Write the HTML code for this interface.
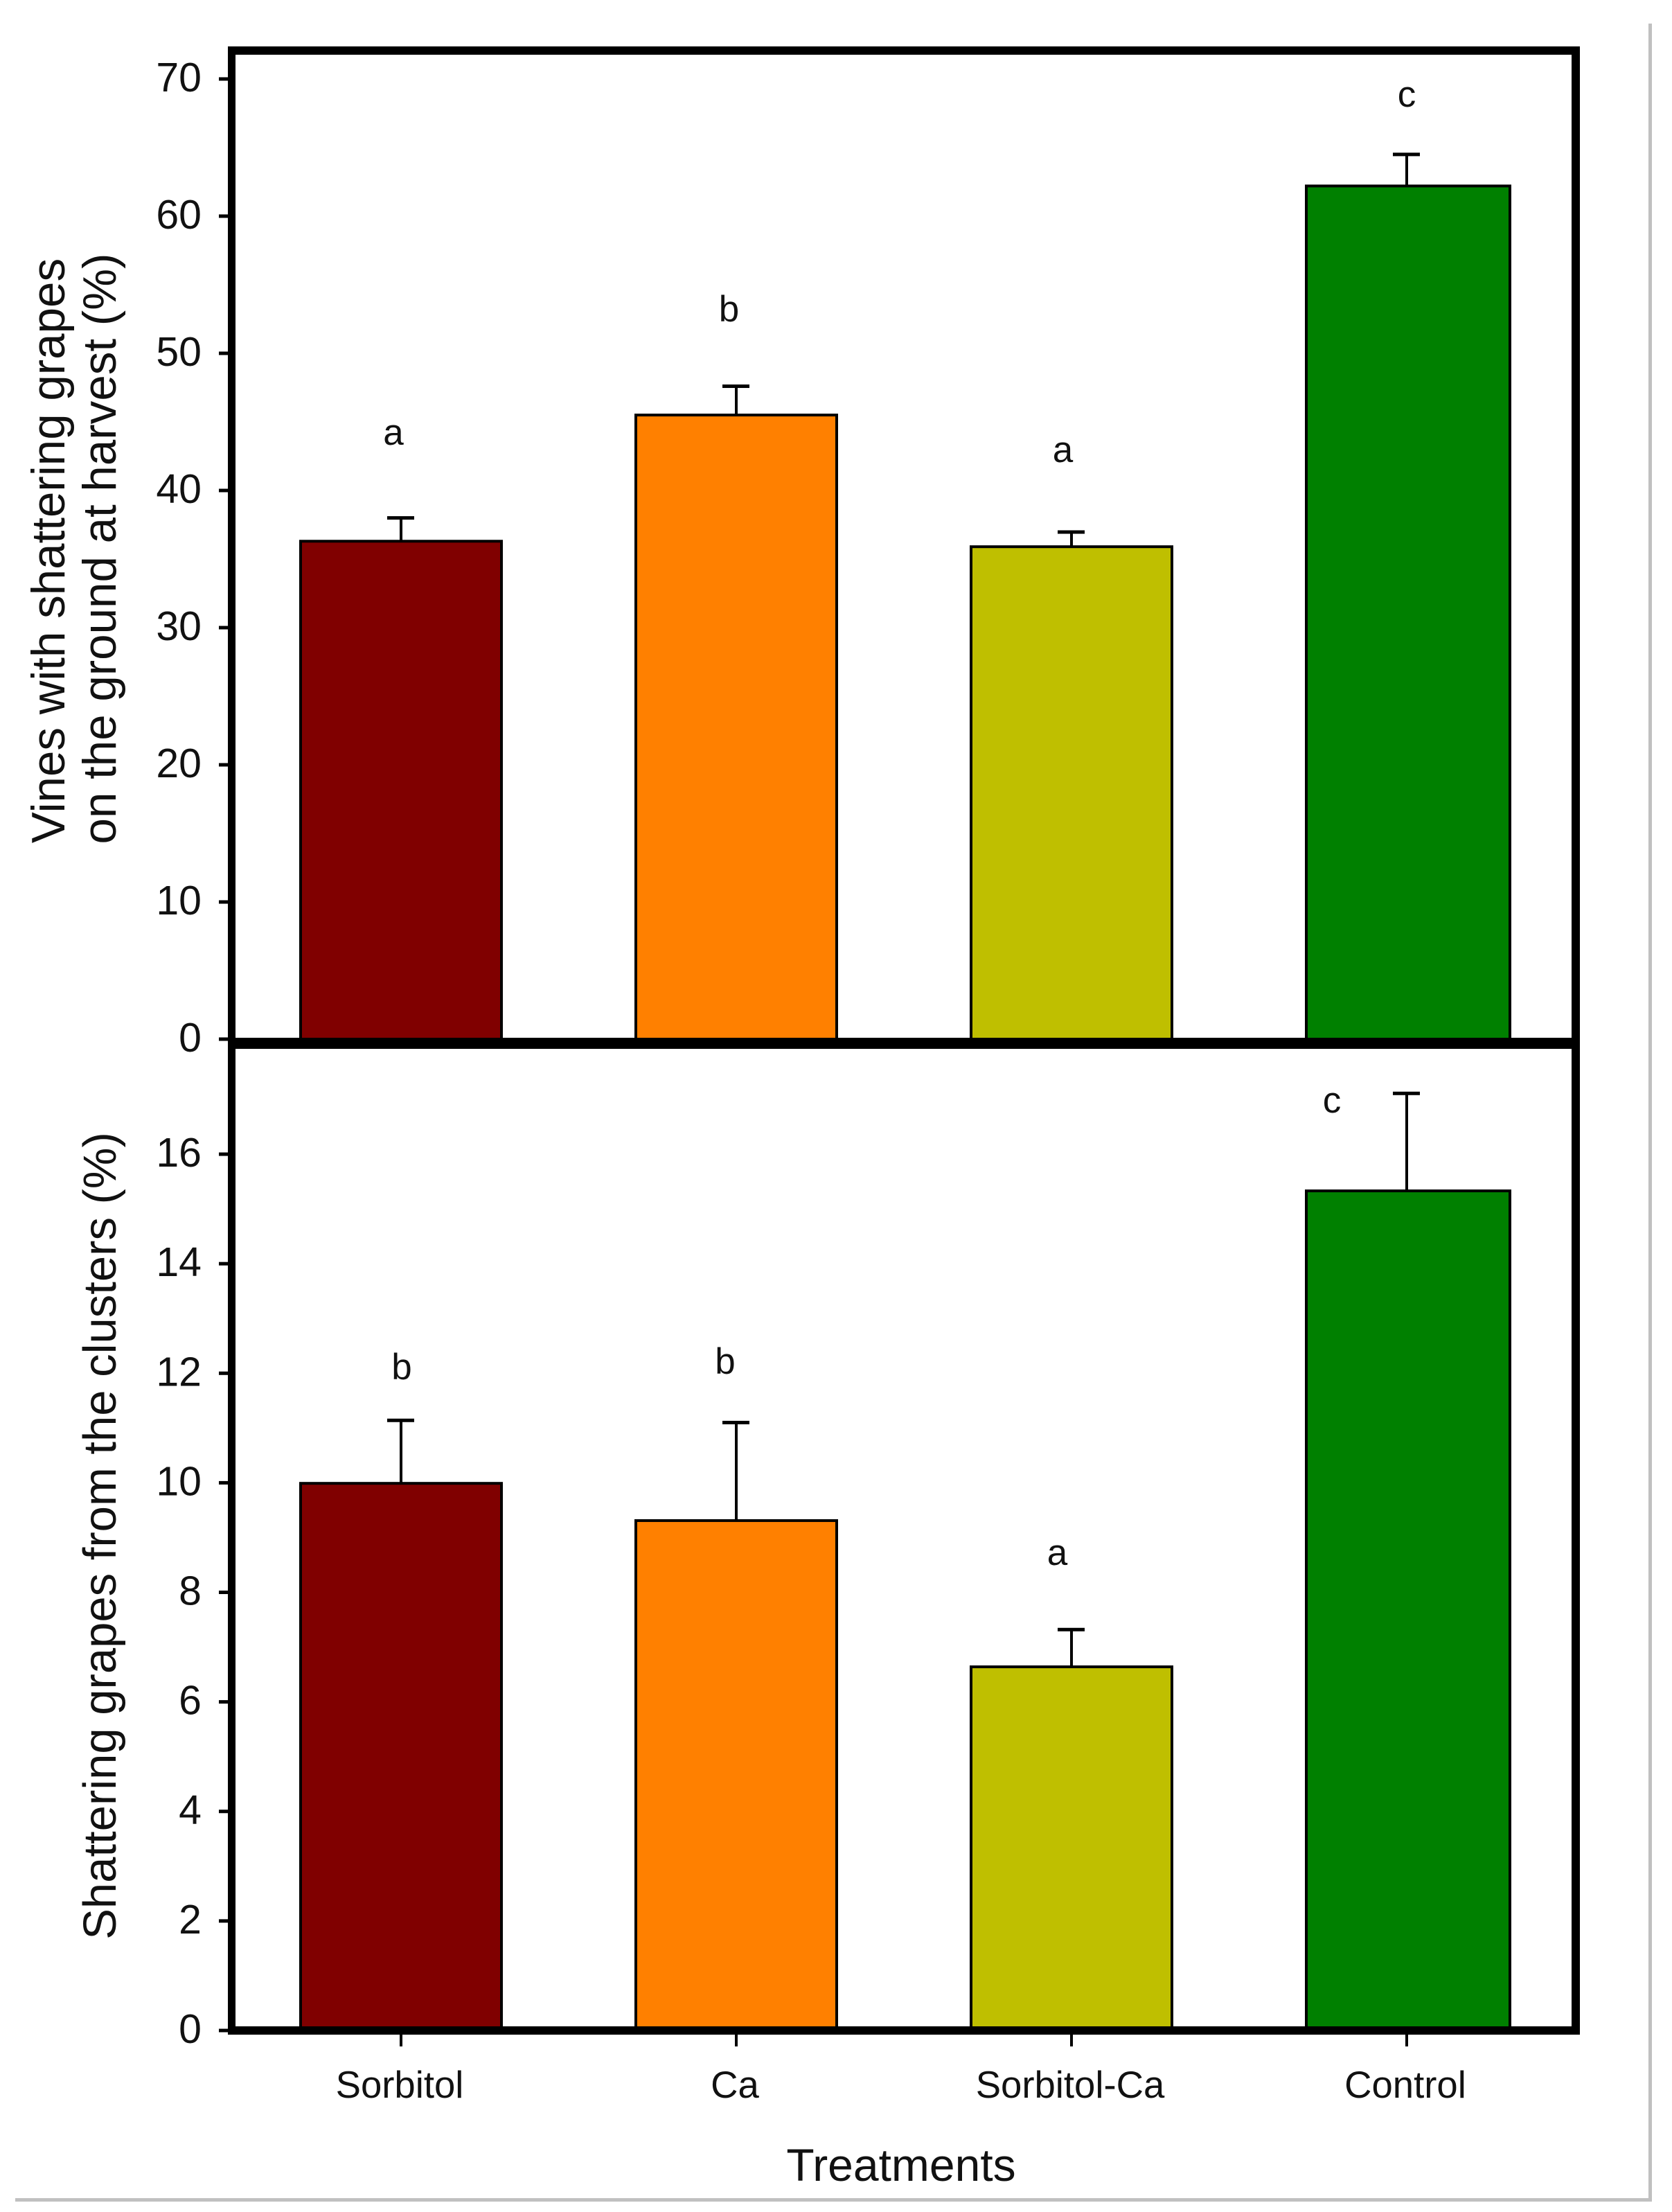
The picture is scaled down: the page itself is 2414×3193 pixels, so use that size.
<!DOCTYPE html>
<html>
<head>
<meta charset="utf-8">
<title>Shattering grapes by treatment</title>
<style>
  html, body { margin: 0; padding: 0; background: #fff; }
  svg { display: block; }
  text { font-family: "Liberation Sans", sans-serif; fill: #111; }
</style>
</head>
<body>
<svg id="chart" xmlns="http://www.w3.org/2000/svg" width="2414" height="3193" viewBox="0 0 2414 3193">
  <rect x="0" y="0" width="2414" height="3193" fill="#ffffff"/>
  <rect x="2380" y="34" width="5" height="3144" fill="#c0c0c0"/>
  <rect x="22" y="3173" width="2363" height="5" fill="#c0c0c0"/>
  <g id="marks"></g>
  <rect x="329" y="67" width="1952" height="12" fill="#000"/>
  <rect x="329" y="67" width="11" height="1447" fill="#000"/>
  <rect x="2269" y="67" width="12" height="2870" fill="#000"/>
  <rect x="329" y="1498" width="1952" height="16" fill="#000"/>
  <rect x="329" y="1498" width="11" height="1439" fill="#000"/>
  <rect x="329" y="2925" width="1952" height="12" fill="#000"/>
  <text transform="translate(93,795) rotate(-90)" text-anchor="middle" font-size="67.3">Vines with shattering grapes</text>
  <text transform="translate(167,792) rotate(-90)" text-anchor="middle" font-size="67.3">on the ground at harvest (%)</text>
  <text transform="translate(167,2217) rotate(-90)" text-anchor="middle" font-size="67">Shattering grapes from the clusters (%)</text>
  <text x="1301" y="3148" text-anchor="middle" font-size="66">Treatments</text>
</svg>
<script>
const categories = ['Sorbitol', 'Ca', 'Sorbitol-Ca', 'Control'];
const barColors = ['#800000', '#ff8000', '#bfbf00', '#008000'];

const topValues = [36.3, 45.5, 35.9, 62.2];
const topErrorTops = [38.0, 47.6, 36.97, 64.5];
const topLetters = ['a', 'b', 'a', 'c'];
const topLetterLevels = [43.33, 52.32, 42.07, 67.98];
const topTickLabels = [0, 10, 20, 30, 40, 50, 60, 70];

const bottomValues = [9.99, 9.31, 6.64, 15.33];
const bottomErrorTops = [11.14, 11.1, 7.32, 17.11];
const bottomLetters = ['b', 'b', 'a', 'c'];
const bottomLetterLevels = [11.89, 11.99, 8.5, 16.76];
const bottomTickLabels = [0, 2, 4, 6, 8, 10, 12, 14, 16];

const NS = 'http://www.w3.org/2000/svg';
const marks = document.getElementById('marks');

function xCenter(i) { return 579 + 484 * i; }
function yTop(v) { return 1500 - 19.8 * v; }
function yBottom(v) { return 2931 - 79.06 * v; }

function makeShape(tag) {
  const el = document.createElementNS(NS, tag);
  marks.appendChild(el);
  return el;
}

function setRect(el, x, y, w, h, fill) {
  el.setAttribute('x', x);
  el.setAttribute('y', y);
  el.setAttribute('width', w);
  el.setAttribute('height', h);
  el.setAttribute('fill', fill);
}

function letterNudge(prefix, i) {
  if (prefix === 'top') {
    return [-11, -10.5, -12.5, 0][i];
  }
  return [1, -16, -20.5, -108][i];
}

function drawPanel(prefix, values, errorTops, letters, letterLevels, ticks, yScale, baseY) {
  values.forEach(function (v, i) {
    const cx = xCenter(i);
    const stem = makeShape('rect');
    
    
    setRect(stem, cx - 2, yScale(errorTops[i]), 4, yScale(v) - yScale(errorTops[i]), '#000');

    const cap = makeShape('rect');
    
    
    setRect(cap, cx - 20, yScale(errorTops[i]) - 2.5, 39, 5, '#000');

    const bar = makeShape('rect');
    
    
    const barWidth = i === categories.length - 1 ? 294 : 290;
    setRect(bar, cx - 145, yScale(v), barWidth, baseY - yScale(v), barColors[i]);
    bar.setAttribute('stroke', '#000');
    bar.setAttribute('stroke-width', '4');

    const letter = makeShape('text');
    
    
    letter.setAttribute('x', cx + letterNudge(prefix, i));
    letter.setAttribute('y', yScale(letterLevels[i]));
    letter.setAttribute('text-anchor', 'middle');
    letter.setAttribute('font-size', '53');
    letter.textContent = letters[i];
  });

  ticks.forEach(function (t) {
    const y = yScale(t);
    const tick = makeShape('rect');
    
    
    setRect(tick, 316, y - 2.5, 14, 5, '#000');

    const label = makeShape('text');
    
    
    label.setAttribute('x', 291);
    label.setAttribute('y', y + 18);
    label.setAttribute('text-anchor', 'end');
    label.setAttribute('font-size', '59');
    label.textContent = t;
  });
}

drawPanel('top', topValues, topErrorTops, topLetters, topLetterLevels, topTickLabels, yTop, 1500);
drawPanel('bottom', bottomValues, bottomErrorTops, bottomLetters, bottomLetterLevels, bottomTickLabels, yBottom, 2930);

categories.forEach(function (c, i) {
  const tick = makeShape('rect');
  
  
  setRect(tick, xCenter(i) - 2, 2935, 4, 19, '#000');

  const label = makeShape('text');
  
  
  label.setAttribute('x', xCenter(i) - 2);
  label.setAttribute('y', 3028);
  label.setAttribute('text-anchor', 'middle');
  label.setAttribute('font-size', '54.5');
  label.textContent = c;
});
</script>
</body>
</html>
